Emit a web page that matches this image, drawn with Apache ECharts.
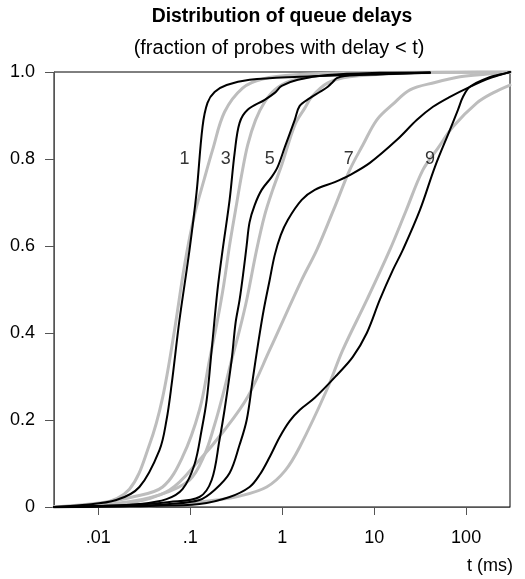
<!DOCTYPE html>
<html><head><meta charset="utf-8">
<script src="https://cdn.jsdelivr.net/npm/echarts@6/dist/echarts.min.js"></script>
<style>html,body{margin:0;padding:0;background:#fff}#c{width:525px;height:579px}</style>
</head><body><div id="c"></div>
<script>
// tick values and labels
const xTicks = [0.01, 0.1, 1, 10, 100];
const xTickLabels = ['.01', '.1', '1', '10', '100'];
const yTicks = [0, 0.2, 0.4, 0.6, 0.8, 1.0];
const yTickLabels = ['0', '0.2', '0.4', '0.6', '0.8', '1.0'];

// curve labels
const curveNames = ['1', '3', '5', '7', '9'];
const curveLabelT = [0.0867, 0.243, 0.731, 5.30, 40.4];
const curveLabelF = [0.80, 0.80, 0.80, 0.80, 0.80];

// measured distributions (black) : [t (ms), fraction]
const black1 = [[0.00332,0],[0.00671,0.0046],[0.0157,0.016],[0.028,0.046],[0.0463,0.131],[0.0552,0.200],[0.0626,0.280],[0.0764,0.430],[0.0982,0.591],[0.117,0.722],[0.136,0.874],[0.154,0.929],[0.184,0.954],[0.249,0.970],[0.442,0.982],[1.55,0.989],[5.43,0.993],[40.4,0.998]];
const black3 = [[0.00332,0],[0.0103,0.0023],[0.028,0.0069],[0.0552,0.018],[0.0824,0.041],[0.111,0.097],[0.133,0.177],[0.151,0.246],[0.171,0.361],[0.198,0.499],[0.225,0.591],[0.268,0.706],[0.304,0.814],[0.344,0.883],[0.421,0.913],[0.645,0.936],[0.829,0.952],[0.987,0.968],[1.48,0.982],[3.13,0.993],[11.5,0.998],[40.4,0.999]];
const black5 = [[0.00332,0],[0.0218,0.0046],[0.0596,0.0115],[0.126,0.023],[0.171,0.062],[0.208,0.154],[0.236,0.223],[0.282,0.338],[0.311,0.423],[0.344,0.476],[0.381,0.545],[0.411,0.602],[0.442,0.655],[0.502,0.694],[0.598,0.729],[0.769,0.759],[0.893,0.782],[1.07,0.828],[1.37,0.890],[1.55,0.922],[2.00,0.940],[2.56,0.954],[3.13,0.966],[3.55,0.977],[3.92,0.986],[4.80,0.991],[11.5,0.995],[40.4,0.999]];
const black7 = [[0.00332,0],[0.0218,0.0023],[0.0596,0.0069],[0.126,0.016],[0.184,0.039],[0.268,0.078],[0.344,0.143],[0.411,0.200],[0.477,0.292],[0.555,0.384],[0.629,0.453],[0.731,0.522],[0.829,0.579],[0.964,0.625],[1.15,0.660],[1.63,0.706],[2.26,0.729],[3.73,0.747],[5.43,0.763],[8.98,0.791],[17.7,0.844],[29.2,0.890],[43.6,0.920],[66.7,0.943],[110,0.966],[182,0.986],[279,0.998],[300,1]];
const black9 = [[0.00332,0],[0.036,0.0023],[0.126,0.0069],[0.268,0.023],[0.442,0.046],[0.569,0.074],[0.731,0.115],[0.940,0.161],[1.21,0.198],[1.55,0.223],[2.26,0.251],[3.92,0.303],[5.86,0.345],[8.32,0.400],[11.5,0.476],[16.0,0.545],[20.5,0.591],[31.5,0.683],[45.8,0.782],[66.7,0.867],[81.5,0.913],[92.5,0.943],[110,0.966],[169,0.986],[279,0.998],[300,1]];

// model distributions (grey)
const gray1 = [[0.00332,0],[0.0103,0.0069],[0.0218,0.041],[0.036,0.143],[0.050,0.251],[0.0675,0.407],[0.0867,0.556],[0.111,0.671],[0.143,0.756],[0.175,0.821],[0.236,0.908],[0.371,0.963],[0.613,0.984],[1.55,0.994],[6.99,0.999],[300,1]];
const gray3 = [[0.00332,0],[0.0103,0.0092],[0.0235,0.023],[0.050,0.046],[0.0824,0.115],[0.126,0.223],[0.162,0.338],[0.198,0.430],[0.231,0.510],[0.268,0.602],[0.311,0.683],[0.362,0.763],[0.421,0.832],[0.514,0.890],[0.645,0.931],[0.829,0.959],[1.21,0.979],[2.56,0.992],[11.5,0.998],[66.7,0.9995],[300,1]];
const gray5 = [[0.00332,0],[0.017,0.0092],[0.0463,0.028],[0.0982,0.062],[0.143,0.120],[0.184,0.189],[0.219,0.246],[0.282,0.338],[0.344,0.407],[0.411,0.476],[0.527,0.591],[0.645,0.671],[0.788,0.729],[0.987,0.786],[1.37,0.878],[1.76,0.917],[2.10,0.943],[3.13,0.975],[5.43,0.989],[19.1,0.997],[85.7,0.9995],[300,1]];
const gray7 = [[0.00332,0],[0.0103,0.0046],[0.0218,0.0092],[0.0596,0.039],[0.126,0.108],[0.236,0.177],[0.421,0.253],[0.731,0.361],[1.63,0.522],[2.38,0.591],[3.73,0.690],[5.43,0.775],[7.53,0.832],[10.7,0.890],[16.0,0.926],[24.5,0.959],[45.8,0.976],[85.7,0.989],[161,0.995],[300,0.999]];
const gray9 = [[0.00332,0],[0.0218,0.0023],[0.0596,0.0046],[0.193,0.016],[0.344,0.025],[0.678,0.046],[1.07,0.083],[1.55,0.138],[3.05,0.269],[4.56,0.361],[8.32,0.476],[14.8,0.591],[22.1,0.680],[33.9,0.775],[49.4,0.825],[71.9,0.874],[131,0.929],[196,0.952],[300,0.970]];

const FONT = '"Liberation Sans", Arial, Helvetica, sans-serif';
const grays = [gray1, gray3, gray5, gray7, gray9];
const blacks = [black1, black3, black5, black7, black9];

function xLabel(v) {
  let best = 0, bd = Infinity;
  xTicks.forEach((t, i) => { const d = Math.abs(Math.log10(v) - Math.log10(t)); if (d < bd) { bd = d; best = i; } });
  return xTickLabels[best];
}
function yLabel(v) {
  let best = 0, bd = Infinity;
  yTicks.forEach((t, i) => { const d = Math.abs(v - t); if (d < bd) { bd = d; best = i; } });
  return yTickLabels[best];
}

const series = [];
grays.forEach((d, i) => series.push({
  type: 'line', name: 'model ' + curveNames[i], data: d, showSymbol: false, symbol: 'none',
  smooth: 0.35, silent: true, z: 2,
  lineStyle: { color: '#bdbdbd', width: 3, join: 'round', cap: 'round' }
}));
blacks.forEach((d, i) => series.push({
  type: 'line', name: 'measured ' + curveNames[i], data: d, showSymbol: false, symbol: 'none',
  smooth: 0.35, silent: true, z: 3,
  lineStyle: { color: '#000', width: 2, join: 'round', cap: 'round' }
}));
series.push({
  type: 'scatter', silent: true, z: 4, symbolSize: 1,
  itemStyle: { color: 'rgba(0,0,0,0)' },
  data: curveNames.map((n, i) => ({ name: n, value: [curveLabelT[i], curveLabelF[i]] })),
  label: { show: true, position: 'inside', formatter: p => p.name, fontSize: 18, color: '#000', fontFamily: FONT }
});

const chart = echarts.init(document.getElementById('c'), null, { renderer: 'canvas' });
chart.setOption({
  animation: false,
  backgroundColor: '#fff',
  title: [
    { text: 'Distribution of queue delays', left: 282, top: 7, textAlign: 'center', padding: 0,
      textStyle: { fontFamily: FONT, fontSize: 19.4, fontWeight: 'bold', color: '#000' } },
    { text: '(fraction of probes with delay < t)', left: 279, top: 38, textAlign: 'center', padding: 0,
      textStyle: { fontFamily: FONT, fontSize: 20, fontWeight: 'normal', color: '#000' } },
    { text: 't (ms)', right: 12, top: 557, padding: 0,
      textStyle: { fontFamily: FONT, fontSize: 18, fontWeight: 'normal', color: '#000' } }
  ],
  grid: { left: 54, right: 15, top: 72, bottom: 72, show: true, borderColor: '#000', borderWidth: 1, backgroundColor: 'rgba(0,0,0,0)' },
  xAxis: {
    type: 'log', logBase: 10, min: 0.0033, max: 300,
    axisLine: { show: true, lineStyle: { color: '#555', width: 1 } },
    axisTick: { show: true, length: 8, customValues: xTicks, lineStyle: { color: '#555' } },
    axisLabel: { customValues: xTicks, formatter: xLabel, margin: 22, fontSize: 18, color: '#000', fontFamily: FONT },
    splitLine: { show: false }, minorTick: { show: false }
  },
  yAxis: {
    type: 'value', min: 0, max: 1, interval: 0.2,
    axisLine: { show: true, lineStyle: { color: '#555', width: 1 } },
    axisTick: { show: true, length: 9, lineStyle: { color: '#555' } },
    axisLabel: { formatter: yLabel, margin: 19, fontSize: 18, color: '#000', fontFamily: FONT },
    splitLine: { show: false }
  },
  series: series
});
</script>
</body></html>
